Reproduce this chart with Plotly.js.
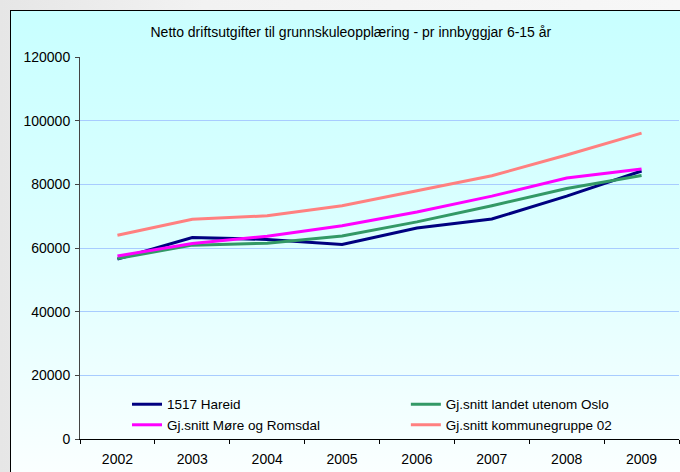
<!DOCTYPE html>
<html>
<head>
<meta charset="utf-8">
<script src="https://cdn.plot.ly/plotly-3.0.1.min.js"></script>
<style>
  html, body { margin: 0; padding: 0; width: 680px; height: 472px; overflow: hidden;
    background: linear-gradient(90deg, #e6e6e6 0%, #f2f2f2 30%, #f7f7f7 100%); }
  #box { position: absolute; left: 10px; top: 10px; width: 700px; height: 500px;
    border: 1px solid #000; box-sizing: border-box;
    background: linear-gradient(180deg, #c8ffff 0%, #dcffff 45%, #ffffff 100%); }
  #chart { position: absolute; left: 0; top: 0; width: 680px; height: 472px; }
</style>
</head>
<body>
<div id="box"></div>
<div id="chart"></div>
<script>
const years = ["2002", "2003", "2004", "2005", "2006", "2007", "2008", "2009"];
const hareid = [56500, 63300, 62700, 61100, 66300, 69100, 76300, 84200];
const landet = [56700, 60900, 61500, 63800, 68200, 73300, 78700, 82800];
const moreRomsdal = [57500, 61400, 63700, 67000, 71300, 76300, 82000, 84800];
const kommunegruppe = [64000, 69000, 70100, 73300, 78000, 82700, 89200, 96100];
const names = ["1517 Hareid", "Gj.snitt landet utenom Oslo", "Gj.snitt Møre og Romsdal", "Gj.snitt kommunegruppe 02"];
const colors = ["#000080", "#339966", "#ff00ff", "#ff8080"];
const legendOf = ["legend", "legend2", "legend", "legend2"];
const yTicks = [0, 20000, 40000, 60000, 80000, 100000, 120000];

const series = [hareid, landet, moreRomsdal, kommunegruppe];
const traces = series.map((s, i) => ({
  x: years, y: s, type: "scatter", mode: "lines", name: names[i],
  legend: legendOf[i],
  line: { color: colors[i], width: 3 }
}));

const legendBase = {
  orientation: "v", yanchor: "top", xanchor: "left", y: 0.131,
  bgcolor: "rgba(0,0,0,0)", font: { size: 13.5 }, traceorder: "normal", tracegroupgap: 0
};

const layout = {
  width: 680, height: 472,
  paper_bgcolor: "rgba(0,0,0,0)", plot_bgcolor: "rgba(0,0,0,0)",
  margin: { l: 80, r: 1, t: 57, b: 33 },
  font: { family: "Liberation Sans, Arial, sans-serif", size: 14, color: "#000" },
  title: { text: "Netto driftsutgifter til grunnskuleopplæring - pr innbyggjar 6-15 år",
    font: { size: 14, color: "#000" }, x: 0.516, xref: "container", xanchor: "center",
    y: 1, yref: "container", yanchor: "top", pad: { t: 27 } },
  xaxis: { type: "category", range: [-0.5, 7.5], tickson: "boundaries", ticks: "outside", ticklen: 4,
    tickcolor: "#000", showline: true, linecolor: "#000", linewidth: 1, showgrid: false,
    tickfont: { size: 14 }, ticklabelstandoff: 7, fixedrange: true, automargin: false },
  yaxis: { range: [0, 120000], tickvals: yTicks, ticktext: yTicks.map(String), ticks: "outside", ticklen: 4,
    tickcolor: "#444", showline: true, linecolor: "#444", linewidth: 1, showgrid: true,
    gridcolor: "#a8ccff", gridwidth: 1, zeroline: false, tickfont: { size: 14 }, ticklabelstandoff: 2,
    fixedrange: true, automargin: false },
  showlegend: true,
  legend: Object.assign({}, legendBase, { x: 0.0785 }),
  legend2: Object.assign({}, legendBase, { x: 0.544 })
};

Plotly.newPlot("chart", traces, layout, { staticPlot: true, displayModeBar: false });
</script>
</body>
</html>
